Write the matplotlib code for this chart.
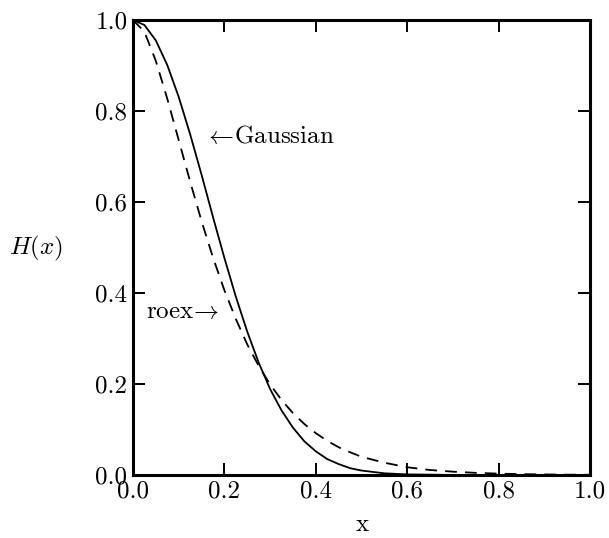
import matplotlib
matplotlib.use("Agg")
import matplotlib.pyplot as plt
from matplotlib.ticker import FormatStrFormatter

# Values
x_gauss = [0.0, 0.025, 0.05, 0.075, 0.1, 0.125, 0.15, 0.175, 0.2, 0.225, 0.25,
           0.275, 0.3, 0.325, 0.35, 0.375, 0.4, 0.425, 0.45, 0.475, 0.5,
           0.55, 0.6, 0.7, 0.8, 0.9, 1.0]
h_gauss = [1.0, 0.989, 0.955, 0.901, 0.831, 0.749, 0.660, 0.567, 0.477, 0.392, 0.315,
           0.247, 0.189, 0.142, 0.104, 0.074, 0.052, 0.035, 0.024, 0.015, 0.0098,
           0.0037, 0.0013, 0.0001, 0.0, 0.0, 0.0]

x_roex = [0.0, 0.025, 0.05, 0.075, 0.1, 0.125, 0.15, 0.175, 0.2, 0.225, 0.25,
          0.275, 0.3, 0.325, 0.35, 0.375, 0.4, 0.425, 0.45, 0.475, 0.5,
          0.55, 0.6, 0.65, 0.7, 0.75, 0.8, 0.85, 0.9, 0.95, 1.0]
h_roex = [1.0, 0.974, 0.910, 0.827, 0.736, 0.645, 0.558, 0.478, 0.406, 0.343, 0.287,
          0.240, 0.199, 0.165, 0.136, 0.112, 0.092, 0.075, 0.061, 0.050, 0.040,
          0.027, 0.017, 0.011, 0.0073, 0.0047, 0.0030, 0.0019, 0.0012, 0.0007, 0.0005]

tick_vals = [0.0, 0.2, 0.4, 0.6, 0.8, 1.0]

plt.rcParams['font.family'] = ['cmr10', 'DejaVu Serif']
plt.rcParams['mathtext.fontset'] = 'cm'
plt.rcParams['axes.formatter.use_mathtext'] = True

W, H = 609, 538
fig = plt.figure(figsize=(W / 100, H / 100), dpi=100)
ax = fig.add_axes([133 / W, 1 - 475 / H, (590 - 133) / W, (475 - 20) / H])

ax.plot(x_gauss, h_gauss, color='black', lw=1.3, solid_capstyle='butt')
ax.plot(x_roex, h_roex, color='black', lw=1.3, linestyle=(0, (6.5, 4.5)))

ax.set_xlim(0, 1)
ax.set_ylim(0, 1)
ax.set_xticks(tick_vals)
ax.set_yticks(tick_vals)
ax.xaxis.set_major_formatter(FormatStrFormatter('%.1f'))
ax.yaxis.set_major_formatter(FormatStrFormatter('%.1f'))
ax.tick_params(direction='in', length=8.5, width=1.4, top=True, right=True,
               labelsize=18, pad=4)
for s in ax.spines.values():
    s.set_linewidth(2.2)

ax.text(0.155, 0.743, r'$\leftarrow\!$Gaussian', fontsize=18, ha='left', va='center')
ax.text(0.028, 0.358, r'roex$\!\rightarrow$', fontsize=18, ha='left', va='center')

fig.text(36.5 / W, 1 - 248 / H, r'$H(x)$', fontsize=18, ha='center', va='center')
fig.text(362 / W, 1 - 525 / H, 'x', fontsize=18, ha='center', va='center')

fig.savefig('out.png', dpi=100, facecolor='white')
